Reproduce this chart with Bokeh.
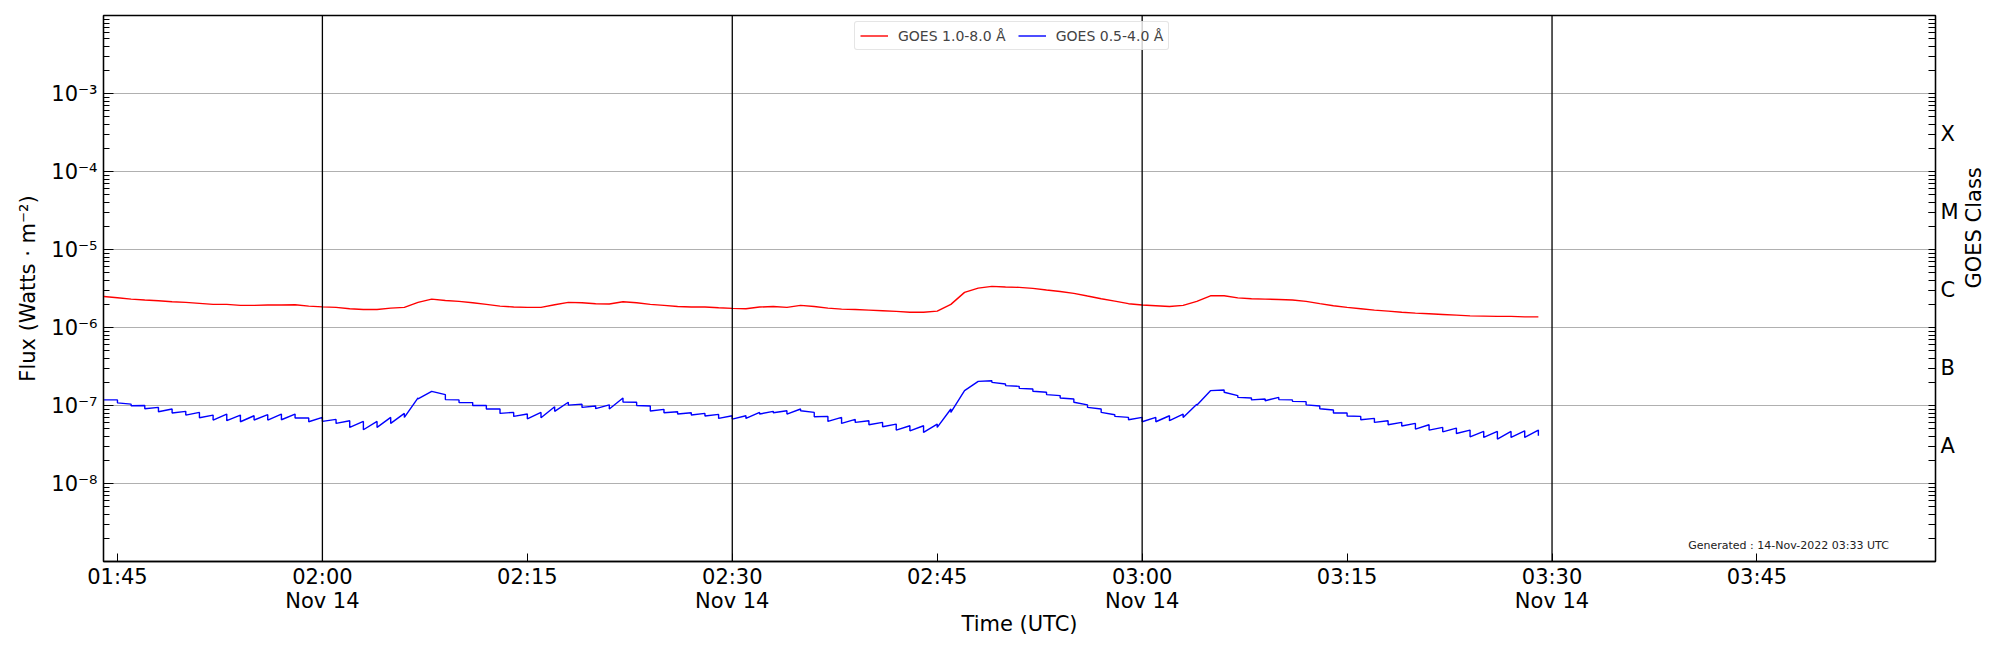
import math
import pandas as pd
from bokeh.plotting import figure
from bokeh.models import FixedTicker, LogAxis, Span, Label, Range1d, ColumnDataSource
from bokeh.embed import file_html
from bokeh.resources import INLINE

# ---------------- data ----------------
START = "2022-11-14 01:44:00"   # first sample, 1-minute cadence

# GOES 1.0-8.0 A flux, units of 1e-6 W m^-2
xrsb_e6 = [2.50, 2.41, 2.31, 2.25, 2.20, 2.14, 2.10, 2.04, 1.98, 1.98,
           1.92, 1.92, 1.94, 1.94, 1.96, 1.88, 1.84, 1.81, 1.74, 1.70,
           1.70, 1.77, 1.81, 2.10, 2.31, 2.22, 2.16, 2.08, 1.98, 1.88,
           1.83, 1.81, 1.81, 1.96, 2.10, 2.08, 2.02, 2.00, 2.14, 2.08,
           1.98, 1.92, 1.86, 1.83, 1.83, 1.79, 1.76, 1.74, 1.83, 1.86,
           1.81, 1.92, 1.86, 1.77, 1.72, 1.70, 1.67, 1.64, 1.61, 1.57,
           1.57, 1.62, 1.98, 2.82, 3.20, 3.37, 3.30, 3.27, 3.17, 3.02,
           2.90, 2.74, 2.53, 2.34, 2.18, 2.02, 1.94, 1.90, 1.86, 1.92,
           2.16, 2.55, 2.55, 2.40, 2.34, 2.31, 2.29, 2.25, 2.16, 2.02,
           1.90, 1.81, 1.74, 1.67, 1.62, 1.57, 1.53, 1.50, 1.47, 1.44,
           1.41, 1.40, 1.39, 1.39, 1.37, 1.37]

# GOES 0.5-4.0 A flux, units of 1e-8 W m^-2 : value at start of each minute
xrsa_start_e8 = [11.8, 10.8, 9.94, 9.10, 8.32, 8.00, 7.54, 6.97, 6.50, 6.38,
                 6.19, 6.50, 6.50, 6.57, 6.90, 6.19, 6.25, 5.89, 5.24, 4.89,
                 5.24, 5.89, 7.04, 12.2, 15.2, 11.9, 10.9, 10.0, 9.01, 7.92,
                 7.25, 6.76, 6.97, 8.41, 10.1, 9.46, 9.10, 9.01, 11.1, 10.0,
                 8.49, 8.08, 7.77, 7.54, 7.32, 6.83, 6.70, 6.83, 7.77, 8.08,
                 7.77, 8.57, 7.18, 6.25, 5.89, 6.07, 5.67, 5.34, 4.84, 4.74,
                 4.52, 5.24, 8.16, 15.5, 20.4, 19.8, 18.0, 16.6, 15.2, 13.8,
                 12.5, 11.0, 9.46, 8.16, 7.25, 6.57, 6.19, 6.19, 6.38, 7.04,
                 10.1, 15.5, 14.8, 12.7, 11.8, 11.5, 11.9, 11.3, 10.2, 9.10,
                 8.00, 7.32, 6.57, 6.07, 5.67, 5.45, 4.98, 4.84, 4.60, 4.38,
                 3.97, 3.90, 3.71, 3.90, 3.90, 4.09]
# ... and value reached at the end of each minute
xrsa_end_e8 = [11.8, 10.4, 10.0, 9.46, 9.01, 8.41, 8.16, 7.54, 7.77, 7.54,
               7.39, 7.62, 7.77, 7.77, 6.90, 7.04, 6.63, 6.38, 6.25, 6.25,
               7.04, 7.92, 12.5, 15.2, 13.8, 11.8, 10.9, 10.0, 9.01, 8.16,
               7.77, 8.16, 9.65, 11.0, 10.4, 9.84, 10.2, 12.5, 11.0, 9.84,
               8.92, 8.32, 8.08, 7.92, 7.69, 7.39, 7.39, 8.16, 8.41, 8.57,
               9.01, 8.16, 7.25, 7.04, 6.63, 6.38, 6.07, 5.78, 5.50, 5.50,
               5.78, 9.01, 15.5, 20.4, 20.8, 18.9, 17.6, 16.3, 14.8, 13.4,
               12.1, 10.2, 9.01, 7.62, 7.04, 7.04, 7.04, 7.39, 7.77, 10.4,
               15.5, 15.8, 13.4, 12.5, 12.1, 12.7, 11.8, 11.2, 9.84, 8.74,
               8.00, 7.25, 6.83, 6.38, 6.07, 5.89, 5.67, 5.24, 5.13, 4.84,
               4.65, 4.65, 4.65, 4.74, 4.84]

x_tick_times = ["01:45", "02:00", "02:15", "02:30", "02:45", "03:00", "03:15", "03:30", "03:45"]
x_tick_labels = ["01:45", "02:00\nNov 14", "02:15", "02:30\nNov 14", "02:45",
                 "03:00\nNov 14", "03:15", "03:30\nNov 14", "03:45"]
vline_times = ["02:00", "02:30", "03:00", "03:30"]
y_ticks = [1e-8, 1e-7, 1e-6, 1e-5, 1e-4, 1e-3]
y_tick_labels = ["10⁻⁸", "10⁻⁷", "10⁻⁶", "10⁻⁵", "10⁻⁴", "10⁻³"]
class_ticks = [3e-8, 3e-7, 3e-6, 3e-5, 3e-4]
class_labels = ["A", "B", "C", "M", "X"]
generated_text = "Generated : 14-Nov-2022 03:33 UTC"
DAY = "2022-11-14 "

# ---------------- build ----------------
times = pd.date_range(START, periods=len(xrsb_e6), freq="1min")
red_src = ColumnDataSource(dict(t=times, f=[v * 1e-6 for v in xrsb_e6]))

bx, by = [], []
for i in range(len(xrsa_end_e8)):
    bx += [times[i], times[i + 1]]
    by += [xrsa_start_e8[i] * 1e-8, xrsa_end_e8[i] * 1e-8]
bx.append(times[len(xrsa_start_e8) - 1])
by.append(xrsa_start_e8[-1] * 1e-8)
blue_src = ColumnDataSource(dict(t=bx, f=by))


def ms(hhmm):
    return pd.Timestamp(DAY + hhmm).value / 1e6


FONT = "DejaVu Sans"
x_start = ms("01:44") - 1300
x_end = ms("03:58") + 4000

p = figure(width=2000, height=650, x_axis_type="datetime", y_axis_type="log",
           x_range=Range1d(x_start, x_end), y_range=Range1d(1e-9, 1e-2),
           output_backend="svg", toolbar_location=None,
           min_border_left=103, min_border_right=62, min_border_top=15, min_border_bottom=89)
p.background_fill_color = "white"
p.border_fill_color = "white"
p.outline_line_color = "black"
p.outline_line_width = 1.3

p.line("t", "f", source=red_src, color="#ff0000", line_width=1.4, legend_label="GOES 1.0-8.0 Å")
p.line("t", "f", source=blue_src, color="#0000ff", line_width=1.4, legend_label="GOES 0.5-4.0 Å")

for tt in vline_times:
    p.add_layout(Span(location=ms(tt), dimension="height", line_color="black", line_width=1.3))

# x axis
xa = p.xaxis[0]
xa.ticker = FixedTicker(ticks=[ms(t) for t in x_tick_times], minor_ticks=[])
xa.major_label_overrides = {ms(t): lab for t, lab in zip(x_tick_times, x_tick_labels)}
xa.axis_label = "Time (UTC)"
xa.major_tick_in = 8
xa.major_tick_out = 0
xa.minor_tick_in = 0
xa.minor_tick_out = 0
xa.major_label_standoff = 3
xa.axis_label_standoff = -4
try:
    xa.major_label_text_line_height = 1.0
except Exception:
    pass

# left y axis
minor = []
for n in range(-9, -2):
    for k in range(2, 10):
        minor.append(k * 10.0 ** n)
ya = p.yaxis[0]
ya.ticker = FixedTicker(ticks=y_ticks, minor_ticks=minor)
ya.major_label_overrides = {v: lab for v, lab in zip(y_ticks, y_tick_labels)}
ya.axis_label = "Flux (Watts · m⁻²)"
ya.major_tick_in = 10
ya.major_tick_out = 0
ya.minor_tick_in = 6
ya.minor_tick_out = 0
ya.major_label_standoff = 6
ya.axis_label_standoff = 8

# right class axis
ra = LogAxis(ticker=FixedTicker(ticks=class_ticks, minor_ticks=minor + y_ticks),
             axis_label="GOES Class")
ra.major_label_overrides = {v: lab for v, lab in zip(class_ticks, class_labels)}
ra.major_tick_in = 7
ra.major_tick_out = 0
ra.minor_tick_in = 7
ra.minor_tick_out = 0
ra.major_label_standoff = 5
ra.axis_label_standoff = 12
try:
    ra.axis_label_orientation = math.pi / 2
except Exception:
    pass
p.add_layout(ra, "right")

for ax in (xa, ya, ra):
    ax.axis_line_color = "black"
    ax.axis_line_width = 1.3
    ax.major_tick_line_color = "black"
    ax.minor_tick_line_color = "black"
    ax.major_label_text_font = FONT
    ax.major_label_text_font_size = "21px"
    ax.major_label_text_color = "black"
    ax.axis_label_text_font = FONT
    ax.axis_label_text_font_size = "21px"
    ax.axis_label_text_font_style = "normal"
    ax.axis_label_text_color = "black"

p.xgrid.grid_line_color = None
p.ygrid.grid_line_color = "#b0b0b0"
p.ygrid.grid_line_width = 1.2

# legend
lg = p.legend[0]
lg.location = (751, 511)
lg.orientation = "horizontal"
lg.margin = 0
lg.padding = 5
lg.spacing = 12
lg.glyph_width = 28
lg.glyph_height = 17
lg.label_height = 17
lg.label_standoff = 10
lg.label_text_font = FONT
lg.label_text_font_size = "14px"
lg.background_fill_alpha = 0.8
lg.border_line_color = "#cccccc"
lg.border_line_width = 1
try:
    lg.border_radius = 3
except Exception:
    pass

p.add_layout(Label(x=ms("03:54") + 39000, y=1.61e-9, text=generated_text,
                   text_align="right", text_baseline="middle",
                   text_font=FONT, text_font_size="11px", text_color="#222222"))

open("out.html", "w").write(file_html(p, INLINE))
